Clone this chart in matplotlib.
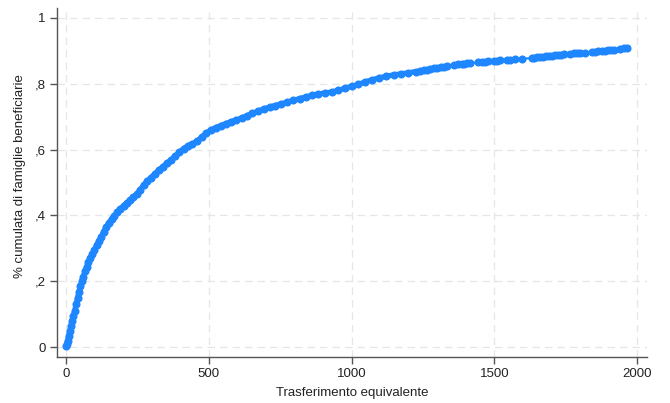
import matplotlib
matplotlib.use("Agg")
import matplotlib.pyplot as plt
from matplotlib.ticker import FixedLocator

# dense part of the cumulative curve
x_dense = [0, 3, 6, 10, 14, 18, 22, 26, 31, 36, 41, 46, 51, 56, 61, 67, 73, 79, 86, 93,
           100, 108, 116, 124, 132, 141, 150, 160, 170, 180, 191, 202, 213, 224, 236, 248,
           260, 272, 285, 298, 311, 325, 339, 353, 367, 382, 397, 412, 427, 443, 459, 475,
           491, 508, 525, 542, 560, 578, 596, 615, 634, 653, 673, 693, 713, 733, 754, 775,
           796, 818, 840, 862, 884, 907, 930, 953, 976, 1000, 1024, 1048, 1072, 1097, 1122,
           1147, 1172, 1198, 1224]
y_dense = [0.003, 0.010, 0.020, 0.035, 0.050, 0.065, 0.080, 0.095, 0.110, 0.130, 0.150,
           0.168, 0.185, 0.200, 0.214, 0.230, 0.245, 0.258, 0.270, 0.283, 0.296, 0.310,
           0.323, 0.336, 0.350, 0.364, 0.377, 0.388, 0.398, 0.410, 0.420, 0.430, 0.438,
           0.446, 0.455, 0.465, 0.478, 0.492, 0.505, 0.515, 0.526, 0.538, 0.548, 0.558,
           0.568, 0.580, 0.592, 0.603, 0.612, 0.618, 0.625, 0.638, 0.650, 0.660, 0.667,
           0.673, 0.679, 0.685, 0.690, 0.696, 0.703, 0.710, 0.717, 0.724, 0.729, 0.734,
           0.739, 0.744, 0.750, 0.755, 0.760, 0.765, 0.769, 0.772, 0.775, 0.780, 0.786,
           0.792, 0.798, 0.806, 0.812, 0.818, 0.823, 0.827, 0.830, 0.833, 0.837]

# sparse tail
x_tail = [1240, 1255, 1263, 1275, 1287, 1300, 1312, 1322, 1333, 1357, 1374, 1385, 1395,
          1405, 1415, 1444, 1455, 1468, 1479, 1497, 1510, 1520, 1544, 1555, 1573, 1596,
          1631, 1640, 1650, 1660, 1670, 1680, 1690, 1700, 1712, 1722, 1732, 1742, 1765,
          1778, 1789, 1800, 1818, 1841, 1853, 1864, 1876, 1888, 1898, 1908, 1917, 1940,
          1952, 1964]
y_tail = [0.839, 0.841, 0.843, 0.845, 0.847, 0.849, 0.851, 0.852, 0.854, 0.857, 0.859,
          0.860, 0.861, 0.862, 0.863, 0.865, 0.866, 0.867, 0.868, 0.869, 0.870, 0.871,
          0.872, 0.873, 0.874, 0.876, 0.878, 0.879, 0.880, 0.881, 0.882, 0.883, 0.884,
          0.885, 0.886, 0.887, 0.888, 0.889, 0.891, 0.892, 0.893, 0.894, 0.895, 0.897,
          0.898, 0.899, 0.900, 0.901, 0.902, 0.903, 0.904, 0.907, 0.908, 0.909]

x_ticks = [0, 500, 1000, 1500, 2000]
y_ticks = [0, 0.2, 0.4, 0.6, 0.8, 1.0]
y_tick_labels = ["0", ",2", ",4", ",6", ",8", "1"]

BLUE = "#1e86ff"
plt.rcParams["font.family"] = ["Liberation Sans", "DejaVu Sans"]

fig = plt.figure(figsize=(6.7, 4.03), dpi=100)
ax = fig.add_axes([0.085, 0.114, 0.881, 0.866])

# dense stretch looks like a solid band, the tail is single dots on a thin line
ax.plot(x_dense, y_dense, color=BLUE, lw=3.8, solid_capstyle="round",
        solid_joinstyle="round", zorder=3)
ax.plot(x_dense[-1:] + x_tail, y_dense[-1:] + y_tail, color=BLUE, lw=1.6, zorder=3)
ax.plot(x_dense + x_tail, y_dense + y_tail, ls="none", marker="o", ms=4.8,
        color=BLUE, mec=BLUE, zorder=4)

ax.set_xlim(-31, 2035)
ax.set_ylim(-0.03, 1.03)
ax.xaxis.set_major_locator(FixedLocator(x_ticks))
ax.yaxis.set_major_locator(FixedLocator(y_ticks))
ax.set_yticklabels(y_tick_labels)

ax.grid(True, color="#e6e6e6", ls=(0, (6, 4)), lw=0.9, zorder=0)
for side in ("top", "right"):
    ax.spines[side].set_visible(False)
for side in ("left", "bottom"):
    ax.spines[side].set_color("#555555")
    ax.spines[side].set_linewidth(1.0)
ax.tick_params(direction="out", length=5, width=1.0, color="#555555",
               labelsize=9.5, labelcolor="#222222", pad=3)

ax.set_xlabel("Trasferimento equivalente", fontsize=9.5, color="#222222")
ax.set_ylabel("% cumulata di famiglie beneficiarie", fontsize=9.5, color="#222222")
ax.xaxis.set_label_coords(0.5, -0.103)
ax.yaxis.set_label_coords(-0.063, 0.52)
ax.xaxis.label.set_va("center")
ax.yaxis.label.set_va("center")

fig.savefig("out.png", dpi=100)
